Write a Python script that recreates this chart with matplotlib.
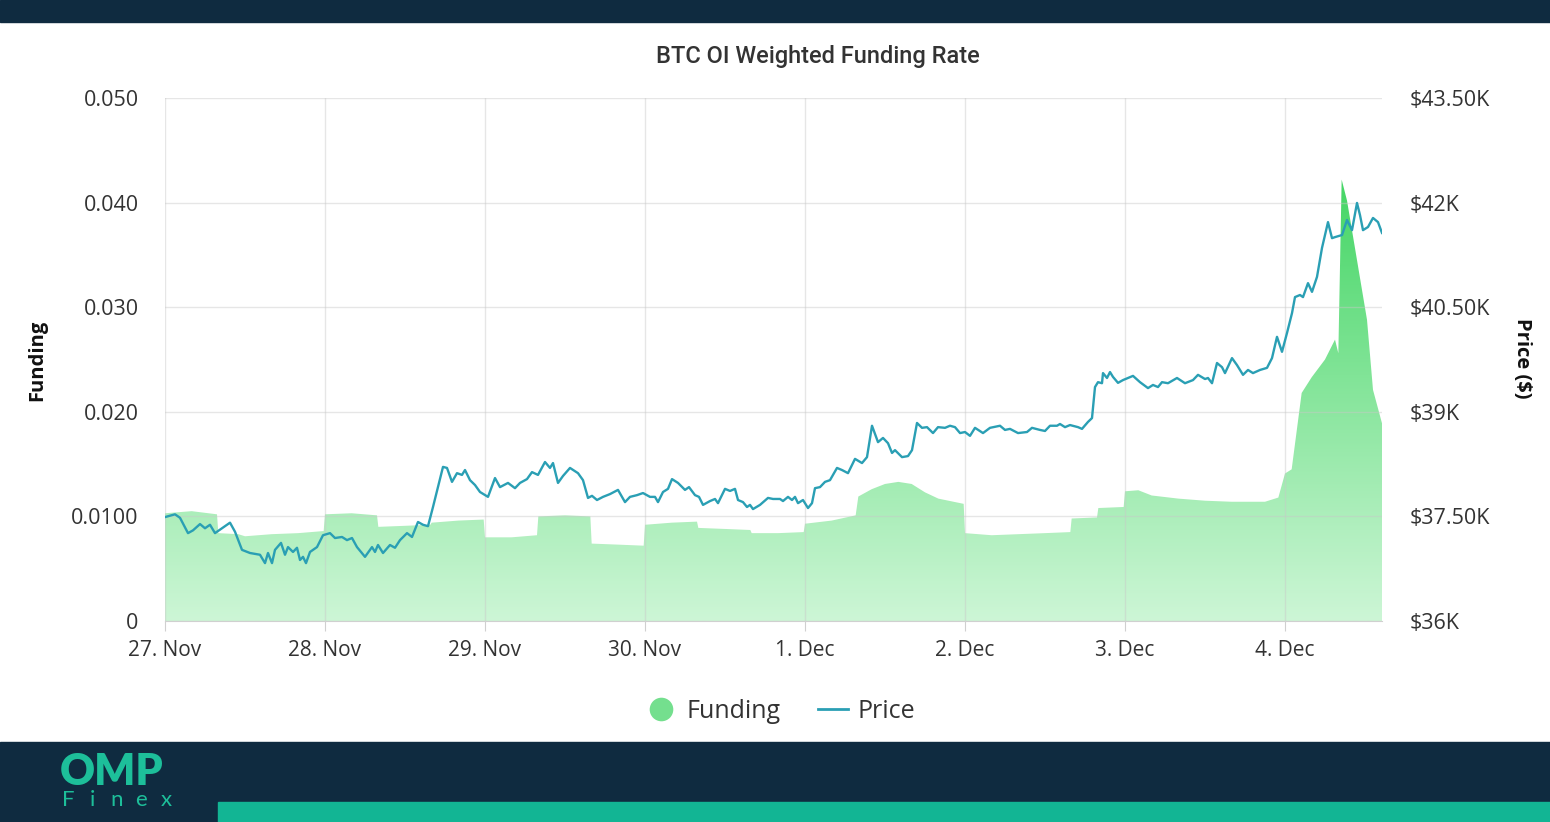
import matplotlib.pyplot as plt
import numpy as np
from matplotlib.colors import LinearSegmentedColormap
from matplotlib.lines import Line2D
from matplotlib.patches import Rectangle

# hours since 27 Nov 00:00
fund_h = [0, 4, 7.8, 8, 11, 12, 16, 20, 23.8, 24,
          28, 31.8, 32, 36, 39.8, 40, 44, 47.8, 48, 52,
          55.8, 56, 60, 63.8, 64, 68, 71.8, 72, 76, 79.8,
          80, 84, 87.8, 88, 92, 95.8, 96, 100, 103.6, 104,
          106, 108, 110, 112, 114, 116, 119.8, 120, 124, 128,
          132, 135.8, 136, 139.8, 140, 143.8, 144, 146, 148, 152,
          156, 160, 165, 167, 168, 169, 170.5, 172, 174, 175.5,
          176.0, 176.5, 177.3, 178.8, 180.3, 181.2, 182.55]
fund_v = [0.0103, 0.0105, 0.0102, 0.0084, 0.0083, 0.0081, 0.0083, 0.0084, 0.0086, 0.0102,
          0.0103, 0.0101, 0.0090, 0.0091, 0.0092, 0.0094, 0.0096, 0.0097, 0.0080, 0.0080,
          0.0082, 0.0100, 0.0101, 0.0100, 0.0074, 0.0073, 0.0072, 0.0092, 0.0094, 0.0095,
          0.0089, 0.0088, 0.0087, 0.0084, 0.0084, 0.0085, 0.0093, 0.0096, 0.0101, 0.0119,
          0.0126, 0.0131, 0.0133, 0.0131, 0.0123, 0.0117, 0.0112, 0.0084, 0.0082, 0.0083,
          0.0084, 0.0085, 0.0098, 0.0099, 0.0108, 0.0109, 0.0124, 0.0125, 0.0120, 0.0117,
          0.0115, 0.0114, 0.0114, 0.0118, 0.0141, 0.0145, 0.0218, 0.0233, 0.0250, 0.0269,
          0.0256, 0.0422, 0.0402, 0.0345, 0.0288, 0.0221, 0.0189]

price_h = [0.0, 1.5, 2.25, 3.45, 4.2, 5.25, 6.0, 6.75, 7.5, 8.55,
           9.75, 10.5, 11.55, 12.75, 14.25, 15.0, 15.45, 16.05, 16.5, 17.4,
           18.0, 18.45, 19.2, 19.8, 20.25, 20.7, 21.15, 21.75, 22.8, 23.7,
           24.75, 25.5, 26.55, 27.3, 28.05, 28.8, 30.0, 31.05, 31.5, 31.95,
           32.7, 33.75, 34.5, 35.25, 36.3, 37.05, 37.95, 38.7, 39.45, 40.2,
           40.95, 41.7, 42.3, 43.05, 43.8, 44.55, 45.0, 45.75, 46.5, 47.25,
           48.45, 49.5, 50.25, 51.45, 52.5, 53.25, 54.3, 55.05, 55.95, 57.0,
           57.75, 58.2, 58.95, 59.7, 60.75, 61.95, 62.7, 63.45, 64.05, 64.8,
           65.7, 66.75, 67.95, 69.0, 69.75, 70.8, 71.7, 72.75, 73.5, 73.95,
           74.7, 75.45, 76.05, 76.95, 78.0, 78.6, 79.5, 80.1, 80.7, 81.75,
           82.5, 82.95, 84.0, 84.75, 85.5, 85.95, 86.7, 87.3, 87.75, 88.2,
           89.25, 90.45, 91.2, 92.25, 92.7, 93.45, 94.05, 94.5, 94.95, 95.7,
           96.45, 97.05, 97.5, 98.25, 99.0, 99.75, 100.8, 101.55, 102.45, 103.5,
           104.55, 105.3, 106.05, 106.95, 107.7, 108.45, 109.05, 109.5, 110.55, 111.45,
           112.05, 112.8, 113.55, 114.3, 115.2, 115.95, 117.0, 117.75, 118.5, 119.25,
           120.0, 120.75, 121.5, 122.7, 123.75, 125.25, 126.0, 126.75, 127.95, 129.3,
           130.05, 131.25, 132.0, 132.75, 133.8, 134.25, 135.0, 135.75, 136.95, 137.55,
           138.45, 139.05, 139.5, 139.95, 140.55, 140.7, 141.3, 141.75, 142.2, 142.95,
           143.7, 145.2, 146.25, 147.45, 148.2, 148.95, 149.55, 150.45, 151.8, 153.0,
           154.2, 154.95, 156.0, 156.45, 157.05, 157.8, 158.55, 159.0, 160.05, 160.8,
           161.7, 162.45, 163.2, 164.25, 165.3, 166.05, 166.8, 167.55, 168.3, 169.05,
           169.5, 170.25, 170.7, 171.45, 172.05, 172.8, 173.55, 174.45, 175.05, 175.5,
           176.55, 177.3, 178.05, 178.8, 179.25, 179.7, 180.45, 181.2, 181.95, 182.55]
price = [37490, 37530, 37480, 37260, 37300, 37390, 37330, 37380, 37260, 37330,
         37410, 37280, 37020, 36975, 36950, 36830, 36975, 36830, 37020, 37120,
         36950, 37060, 36990, 37050, 36875, 36920, 36830, 36990, 37060, 37230,
         37260, 37190, 37205, 37160, 37190, 37060, 36920, 37060, 36990, 37090,
         36975, 37090, 37050, 37160, 37260, 37205, 37420, 37380, 37360, 37635,
         37920, 38210, 38195, 37995, 38120, 38095, 38165, 38020, 37950, 37850,
         37780, 38050, 37920, 37980, 37905, 37980, 38035, 38135, 38095, 38280,
         38195, 38265, 37980, 38080, 38195, 38120, 38020, 37765, 37795, 37735,
         37780, 37820, 37880, 37705, 37780, 37805, 37835, 37780, 37780, 37705,
         37850, 37895, 38035, 37980, 37880, 37920, 37805, 37780, 37665, 37720,
         37750, 37690, 37895, 37865, 37895, 37735, 37705, 37635, 37665, 37605,
         37665, 37765, 37750, 37750, 37720, 37780, 37735, 37780, 37690, 37735,
         37620, 37690, 37905, 37920, 37995, 38020, 38195, 38165, 38120, 38325,
         38265, 38350, 38800, 38565, 38625, 38550, 38410, 38450, 38350, 38365,
         38450, 38840, 38770, 38780, 38695, 38780, 38770, 38800, 38780, 38695,
         38710, 38655, 38770, 38695, 38770, 38800, 38740, 38755, 38695, 38710,
         38770, 38740, 38725, 38800, 38800, 38825, 38780, 38810, 38780, 38755,
         38855, 38910, 39355, 39425, 39410, 39555, 39485, 39570, 39500, 39415,
         39455, 39515, 39425, 39340, 39385, 39355, 39425, 39410, 39485, 39410,
         39455, 39530, 39470, 39485, 39410, 39700, 39640, 39555, 39770, 39670,
         39530, 39600, 39555, 39600, 39630, 39770, 40075, 39860, 40130, 40415,
         40645, 40675, 40645, 40845, 40720, 40935, 41350, 41720, 41490, 41505,
         41535, 41750, 41605, 41995, 41820, 41605, 41650, 41780, 41720, 41565]

day_ticks = [0, 24, 48, 72, 96, 120, 144, 168]
day_labels = ['27. Nov', '28. Nov', '29. Nov', '30. Nov', '1. Dec', '2. Dec', '3. Dec', '4. Dec']
fund_ticks = [0, 0.01, 0.02, 0.03, 0.04, 0.05]
fund_labels = ['0', '0.0100', '0.020', '0.030', '0.040', '0.050']
price_ticks = [36000, 37500, 39000, 40500, 42000, 43500]
price_labels = ['$36K', '$37.50K', '$39K', '$40.50K', '$42K', '$43.50K']

W, H = 1550, 822
txt = '#333333'
font = ['Open Sans', 'DejaVu Sans']
teal = '#1dbf9a'

fig = plt.figure(figsize=(W / 100, H / 100), dpi=100)
fig.patch.set_facecolor('white')

# dark bands and footer bar
fig.add_artist(Rectangle((0, 1 - 22 / H), 1, 22 / H, transform=fig.transFigure, color='#0f2b40', zorder=0))
fig.add_artist(Rectangle((0, 0), 1, 80 / H, transform=fig.transFigure, color='#0f2b40', zorder=0))
fig.add_artist(Rectangle((218 / W, 0), 1, 20 / H, transform=fig.transFigure, color='#12b594', zorder=1))

ax = fig.add_axes([165 / W, 1 - 621 / H, (1382 - 165) / W, (621 - 98) / H])

# gradient area for funding
cmap = LinearSegmentedColormap.from_list('fund', ['#cdf6d6', '#42d563'])
grad = np.linspace(0, 1, 256).reshape(-1, 1)
im = ax.imshow(grad, extent=[0, max(fund_h), 0, 0.043], origin='lower', aspect='auto',
               cmap=cmap, zorder=1)
poly = ax.fill_between(fund_h, fund_v, color='none', lw=0)
im.set_clip_path(poly.get_paths()[0], transform=ax.transData)

ax.set_xlim(0, max(fund_h))
ax.set_ylim(0, 0.05)
ax.set_axisbelow(False)
ax.grid(True, color='#c8c8c8', alpha=0.45, lw=1)
ax.set_xticks(day_ticks)
ax.set_xticklabels(day_labels)
ax.set_yticks(fund_ticks)
ax.set_yticklabels(fund_labels)
ax.tick_params(axis='x', length=7, color='#d0d0d0', pad=6.5, labelsize=15, labelcolor=txt)
ax.tick_params(axis='y', length=0, pad=19, labelsize=15.5, labelcolor=txt)
for s in ['top', 'left', 'right']:
    ax.spines[s].set_visible(False)
ax.spines['bottom'].set_color('#d0d0d0')
for lab in ax.get_xticklabels() + ax.get_yticklabels():
    lab.set_family(font)

# price on right axis
ax2 = ax.twinx()
ax2.plot(price_h, price, color='#2a9fb4', lw=1.7)
ax2.set_ylim(36000, 43500)
ax2.set_yticks(price_ticks)
ax2.set_yticklabels(price_labels)
ax2.tick_params(axis='y', length=0, pad=20, labelsize=15.5, labelcolor=txt)
for s in ax2.spines.values():
    s.set_visible(False)
for lab in ax2.get_yticklabels():
    lab.set_family(font)

fig.text(818 / W, 1 - 57 / H, 'BTC OI Weighted Funding Rate', ha='center', va='center',
         fontsize=17, color=txt, family=['Roboto', 'DejaVu Sans'], fontweight='medium')
fig.text(37 / W, 1 - 360 / H, 'Funding', rotation=90, ha='center', va='center',
         fontsize=14.5, fontweight='bold', color='#111111', family=font)
fig.text(1522 / W, 1 - 358 / H, 'Price ($)', rotation=270, ha='center', va='center',
         fontsize=14.5, fontweight='bold', color='#111111', family=font)

handles = [Line2D([], [], marker='o', ls='', ms=17, mfc='#74df8e', mec='none', label='Funding'),
           Line2D([], [], color='#2a9fb4', lw=2, label='Price')]
fig.legend(handles=handles, loc='center', bbox_to_anchor=(781 / W, 1 - 711 / H), ncol=2,
           frameon=False, handlelength=1.2, columnspacing=1.5, handletextpad=0.4,
           borderpad=0, prop={'family': font, 'size': 18}, labelcolor=txt)

# logo
fig.text(60 / W, 1 - 772 / H, 'OMP', ha='left', va='center', fontsize=31, fontweight='heavy',
         color=teal, family=['Lato', 'DejaVu Sans'])
for i, ch in enumerate('Finex'):
    fig.text((68 + i * 24.5) / W, 1 - 800 / H, ch, ha='center', va='center', fontsize=16,
             fontweight='normal', color=teal, family=['Lato', 'DejaVu Sans'])

fig.savefig('out.png', dpi=100)
